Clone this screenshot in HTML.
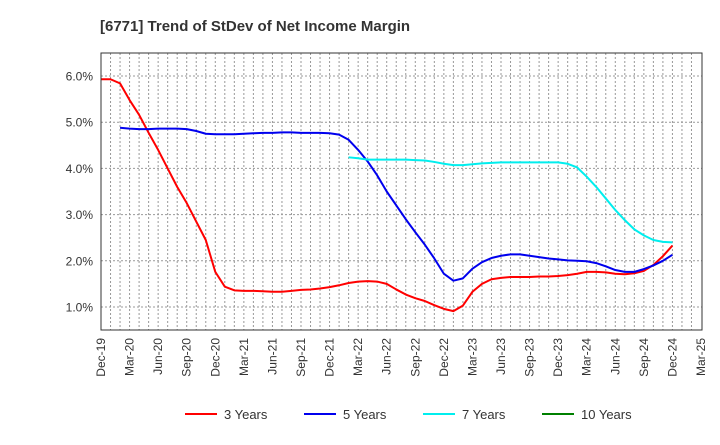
<!DOCTYPE html>
<html><head><meta charset="utf-8"><style>
body{margin:0;background:#fff;font-family:"Liberation Sans",sans-serif}
</style></head><body>
<svg id="c" width="720" height="440" xmlns="http://www.w3.org/2000/svg" font-family="Liberation Sans, sans-serif">
<text x="100" y="31" font-size="15" font-weight="bold" fill="#333">[6771]  Trend of StDev of Net Income Margin</text>
<g id="grid"></g>
<g id="series"></g>
<rect x="101" y="53" width="601" height="277" fill="none" stroke="#333" stroke-width="1"/>
<g id="axes"></g>
<g id="legend"></g>
</svg>
<script>
const months=63;
const xTickLabels=["Dec-19","Mar-20","Jun-20","Sep-20","Dec-20","Mar-21","Jun-21","Sep-21","Dec-21","Mar-22","Jun-22","Sep-22","Dec-22","Mar-23","Jun-23","Sep-23","Dec-23","Mar-24","Jun-24","Sep-24","Dec-24","Mar-25"];
const yTicks=[1,2,3,4,5,6];
const s3Start=0;
const s3=[5.93,5.93,5.84,5.48,5.16,4.77,4.40,4.0,3.6,3.25,2.85,2.45,1.76,1.44,1.36,1.35,1.35,1.34,1.33,1.33,1.35,1.37,1.38,1.40,1.43,1.47,1.52,1.55,1.56,1.55,1.50,1.38,1.27,1.19,1.13,1.04,0.96,0.91,1.03,1.33,1.50,1.60,1.63,1.65,1.65,1.65,1.66,1.66,1.67,1.69,1.72,1.76,1.76,1.75,1.72,1.71,1.73,1.78,1.91,2.10,2.33];
const s5Start=2;
const s5=[4.88,4.86,4.85,4.85,4.86,4.86,4.86,4.85,4.81,4.75,4.74,4.74,4.74,4.75,4.76,4.77,4.77,4.78,4.78,4.77,4.77,4.77,4.76,4.73,4.62,4.40,4.15,3.85,3.5,3.2,2.9,2.62,2.35,2.05,1.72,1.57,1.62,1.83,1.97,2.06,2.11,2.14,2.14,2.11,2.08,2.05,2.03,2.01,2.00,1.99,1.95,1.88,1.80,1.76,1.76,1.82,1.90,2.00,2.13];
const s7Start=26;
const s7=[4.24,4.22,4.19,4.19,4.19,4.19,4.19,4.18,4.17,4.14,4.10,4.07,4.07,4.09,4.11,4.12,4.13,4.13,4.13,4.13,4.13,4.13,4.13,4.10,4.02,3.82,3.60,3.35,3.10,2.88,2.68,2.55,2.45,2.41,2.40];
const s10Start=0;
const s10=[];
const X0=101,DX=600/63;
const x=i=>X0+i*DX;
const y=v=>76+(6-v)*46.2;
const NS="http://www.w3.org/2000/svg";
function mk(t,a,p){const e=document.createElementNS(NS,t);for(const k in a)e.setAttribute(k,a[k]);p.appendChild(e);return e;}
const grid=document.getElementById('grid'),axes=document.getElementById('axes'),ser=document.getElementById('series'),leg=document.getElementById('legend');
for(let i=1;i<months;i++){const l=mk('line',{x1:x(i),x2:x(i),y1:53,y2:330,stroke:'#999','stroke-width':1,'stroke-dasharray':'2,2'},grid);

}
yTicks.forEach(v=>{const l=mk('line',{x1:101,x2:702,y1:y(v),y2:y(v),stroke:'#999','stroke-width':1,'stroke-dasharray':'2,2'},grid);


const t=mk('text',{x:93,y:y(v)+4.5,'text-anchor':'end','font-size':12,fill:'#333'},axes);t.textContent=v.toFixed(1)+'%';

});
xTickLabels.forEach((s,k)=>{const xx=x(k*3)+4;const t=mk('text',{x:xx,y:338,'text-anchor':'end','font-size':12,fill:'#333',transform:`rotate(-90 ${xx} 338)`},axes);t.textContent=s;

});
function draw(arr,st,col,name){if(!arr.length)return;const p=mk('polyline',{points:arr.map((v,i)=>x(st+i)+','+y(v)).join(' '),fill:'none',stroke:col,'stroke-width':2,'stroke-linejoin':'round'},ser);

}
draw(s3,s3Start,'#ff0000','line-3-years');
draw(s5,s5Start,'#0000ee','line-5-years');
draw(s7,s7Start,'#00eeee','line-7-years');
draw(s10,s10Start,'#008000','line-10-years');
const L=[["3 Years","#ff0000",185],["5 Years","#0000ee",304],["7 Years","#00eeee",423],["10 Years","#008000",542]];
L.forEach(([n,c,lx])=>{const g=mk('g',{},leg);


mk('line',{x1:lx,x2:lx+32,y1:414,y2:414,stroke:c,'stroke-width':2},g);
const t=mk('text',{x:lx+39,y:419,'font-size':13,fill:'#333'},g);t.textContent=n;});
</script>
</body></html>
